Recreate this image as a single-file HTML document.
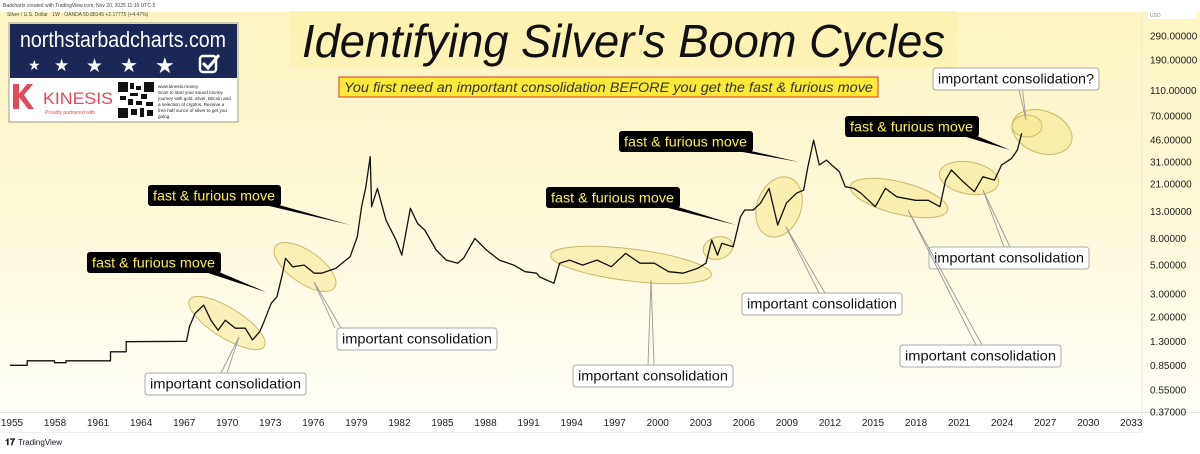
<!DOCTYPE html>
<html><head><meta charset="utf-8"><style>
html,body{margin:0;padding:0;background:#fff;}
svg{display:block;font-family:"Liberation Sans",sans-serif;}
</style></head><body>
<svg id="chart" width="1200" height="454" viewBox="0 0 1200 454" xmlns="http://www.w3.org/2000/svg">
<defs>
<linearGradient id="bg" x1="0" y1="0" x2="0" y2="1">
<stop offset="0" stop-color="#fdf5c2"/><stop offset="0.5" stop-color="#fdf8d8"/><stop offset="1" stop-color="#fffef8"/>
</linearGradient>
<clipPath id="plotclip"><rect x="0" y="14" width="1142" height="398"/></clipPath>
</defs>
<rect x="0" y="0" width="1200" height="454" fill="#fff"/>
<rect x="0" y="12" width="1200" height="400" fill="url(#bg)"/>
<line x1="1142" y1="12" x2="1142" y2="432" stroke="#ece8d8" stroke-width="1"/>
<line x1="0" y1="412.5" x2="1200" y2="412.5" stroke="#e6e3d6"/>
<line x1="0" y1="432.5" x2="1142" y2="432.5" stroke="#eeeeee"/>
<text x="3" y="7" font-size="5" fill="#444">Badcharts created with TradingView.com, Nov 20, 2025 11:15 UTC-5</text>
<text x="7" y="16" font-size="5" fill="#444">Silver / U.S. Dollar · 1W · OANDA  50.88145  +2.17775 (+4.47%)</text>
<rect x="1148" y="11" width="48" height="8" fill="#fff"/>
<text x="1150" y="17" font-size="5" fill="#888">USD</text>

<g>
<rect x="290" y="11" width="667" height="57" fill="#fcf2b0" opacity="0.85"/>
<text x="302" y="57" font-size="46" font-style="italic" fill="#111" textLength="643" lengthAdjust="spacingAndGlyphs">Identifying Silver's Boom Cycles</text>
</g>
<g>
<rect x="339" y="77" width="539" height="20" fill="#fde938" stroke="#e0553a" stroke-width="1.2"/>
<text x="344" y="92" font-size="14" font-style="italic" fill="#333" textLength="529" lengthAdjust="spacingAndGlyphs">You first need an important consolidation BEFORE you get the fast &amp; furious move</text>
</g>

<g>
<rect x="9" y="23" width="229" height="99" fill="#fff" stroke="#888" stroke-width="0.8"/>
<rect x="10" y="24" width="227" height="54" fill="#1b2757"/>
<text x="20" y="47" font-size="22" fill="#fff" textLength="206" lengthAdjust="spacingAndGlyphs">northstarbadcharts.com</text>
<g fill="#fff">
<text x="28" y="70" font-size="14">★</text><text x="54" y="71" font-size="17">★</text><text x="86" y="72" font-size="19">★</text><text x="120" y="72" font-size="20">★</text><text x="155" y="73" font-size="22">★</text>
</g>
<rect x="200" y="56" width="16" height="16" rx="3" fill="none" stroke="#fff" stroke-width="2.5"/>
<path d="M203 63 l5 5 l11 -13" fill="none" stroke="#fff" stroke-width="3"/>
<path d="M13 84 h6 v10 l8 -10 h6 l-9 11 l10 14 h-6 l-9 -12 v12 h-6 z" fill="#e24a5a"/>
<text x="43" y="104" font-size="17" fill="#e24a5a" textLength="70" lengthAdjust="spacingAndGlyphs">KINESIS</text>
<text x="45" y="114" font-size="5" fill="#e24a5a">Proudly partnered with</text>
<g fill="#111">
<rect x="118" y="82" width="36" height="36" fill="#fff"/>
<rect x="118" y="82" width="10" height="10"/><rect x="144" y="82" width="10" height="10"/><rect x="118" y="108" width="10" height="10"/>
<rect x="130" y="83" width="4" height="6"/><rect x="136" y="86" width="5" height="4"/><rect x="130" y="93" width="8" height="3"/><rect x="141" y="94" width="6" height="5"/>
<rect x="120" y="96" width="6" height="4"/><rect x="128" y="99" width="5" height="6"/><rect x="136" y="101" width="6" height="4"/><rect x="146" y="102" width="7" height="4"/>
<rect x="131" y="109" width="6" height="6"/><rect x="140" y="108" width="4" height="9"/><rect x="147" y="110" width="6" height="6"/>
</g>
<g font-size="4.6" fill="#222">
<text x="158" y="88">www.kinesis.money</text>
<text x="158" y="94">Scan to start your sound money</text>
<text x="158" y="100">journey with gold, silver, Bitcoin and</text>
<text x="158" y="106">a selection of cryptos. Receive a</text>
<text x="158" y="112">free half ounce of silver to get you</text>
<text x="158" y="118">going.</text>
</g>
</g>

<g id="yaxis"></g>
<g id="xaxis"></g>
<g id="ellipses"></g>
<g id="series" clip-path="url(#plotclip)"></g>
<g id="annotations"></g>
<g>
<text x="5" y="445" font-size="9" font-weight="bold" fill="#131722">𝟏𝟕</text>
<text x="18" y="445" font-size="8" fill="#131722">TradingView</text>
</g>
</svg>
<script>
const years = [1955.0,1956.2,1956.2,1958.1,1958.1,1958.9,1958.9,1962.0,1962.0,1963.1,1963.1,1967.3,1967.5,1967.9,1968.5,1969.0,1969.5,1970.0,1970.7,1971.4,1971.9,1972.4,1972.7,1973.2,1973.6,1974.0,1974.2,1974.7,1975.5,1976.2,1976.7,1977.7,1978.7,1979.2,1979.5,1979.8,1980.1,1980.2,1980.6,1981.2,1981.9,1982.3,1982.9,1983.4,1983.9,1984.7,1985.4,1986.2,1986.6,1987.4,1988.2,1989.1,1990.1,1990.9,1991.7,1991.9,1992.9,1993.3,1994.0,1994.9,1995.9,1996.9,1997.9,1998.9,1999.9,2000.9,2001.9,2002.9,2003.5,2003.9,2004.3,2004.6,2005.4,2005.9,2006.2,2006.8,2007.3,2007.9,2008.5,2009.1,2009.8,2010.3,2010.6,2011.0,2011.4,2011.9,2012.4,2012.8,2013.2,2013.8,2014.3,2015.3,2016.0,2016.8,2018.1,2019.0,2019.8,2020.2,2020.6,2021.3,2022.2,2022.8,2023.6,2024.1,2024.8,2025.2,2025.5];
const prices = [0.85,0.85,0.92,0.92,0.89,0.89,0.92,0.92,1.08,1.08,1.29,1.30,1.68,2.13,2.47,1.89,1.58,1.89,1.64,1.64,1.33,1.54,1.84,2.55,2.86,4.34,5.65,4.86,5.01,4.34,4.34,4.73,5.81,8.28,14.1,20.1,34.2,14.1,19.5,11.1,7.82,5.98,13.7,10.5,9.33,6.55,5.48,5.18,5.65,8.05,6.55,5.48,5.01,4.46,4.34,4.07,3.63,5.18,5.48,5.01,5.48,4.87,6.17,5.18,5.18,4.46,4.34,4.73,5.18,7.82,5.98,7.36,6.93,11.8,13.3,13.3,15.0,19.5,10.2,15.0,17.9,18.9,28.6,45.9,29.5,32.2,28.6,26.2,20.1,19.5,17.9,14.1,19.5,16.8,15.8,15.8,14.1,22.6,27.0,22.6,18.4,24.0,22.6,29.5,33.2,38.5,51.8];
const priceTicks = [290,190,110,70,46,31,21,13,8,5,3,2,1.3,0.85,0.55,0.37];
const yearTicks = [1955,1958,1961,1964,1967,1970,1973,1976,1979,1982,1985,1988,1991,1994,1997,2000,2003,2006,2009,2012,2015,2018,2021,2024,2027,2030,2033];

const NS = 'http://www.w3.org/2000/svg';
function xScale(yr){ return 10 + (yr - 1955) * 14.35; }
function yScale(v){ return 36 + (Math.log10(290) - Math.log10(v)) * 130; }
function mk(tag, attrs, parent){ const e=document.createElementNS(NS,tag); for(const k in attrs) e.setAttribute(k,attrs[k]); parent.appendChild(e); return e; }

const yax = document.getElementById('yaxis');
priceTicks.forEach(v=>{
  const t = mk('text',{x:1150,y:yScale(v)+3.5,'font-size':10,fill:'#222'},yax);
  
  
  t.textContent = v.toFixed(5);
});
const xax = document.getElementById('xaxis');
yearTicks.forEach(y=>{
  const t = mk('text',{x:xScale(y)+2,y:426,'font-size':10,fill:'#222','text-anchor':'middle'},xax);
  
  
  t.textContent = y;
});

let d = '';
years.forEach((yr,i)=>{ d += (i?'L':'M') + xScale(yr).toFixed(1) + ' ' + yScale(prices[i]).toFixed(1) + ' '; });
const line = mk('path',{d:d,fill:'none',stroke:'#111','stroke-width':1.3,'stroke-linejoin':'round'},document.getElementById('series'));



const ells = [[227,323,44,15,32],[305,267,36,16,35],[631,265,81,16,7],[718,248,15,11,-15],[779,207,31,22,-70],[899,198,50,16,14],[969,178,30,16,10],[1042,132,31,21,20],[1027,126,15,11,0]];
const eg = document.getElementById('ellipses');
ells.forEach(e=>{
  const el = mk('ellipse',{cx:e[0],cy:e[1],rx:e[2],ry:e[3],transform:`rotate(${e[4]} ${e[0]} ${e[1]})`,fill:'#f6e88a','fill-opacity':0.5,stroke:'#c9bb6a','stroke-width':1},eg);
  
  
});

const ag = document.getElementById('annotations');
const ff = [[87,252,134,21,266,292],[148,185,133,21,350,225],[546,187,134,21,736,225],[619,131,134,21,799,162],[845,116,134,21,1010,150]];
ff.forEach(f=>{
  const g = mk('g',{},ag);
  
  
  const bx=f[0]+f[2]-16, by=f[1]+f[3];
  mk('path',{d:`M${bx} ${by-1} L${f[4]} ${f[5]} L${bx+14} ${by-1} Z`,fill:'#000'},g);
  mk('rect',{x:f[0],y:f[1],width:f[2],height:f[3],rx:3,fill:'#000'},g);
  const t = mk('text',{x:f[0]+5,y:f[1]+15.5,'font-size':14,fill:'#f8ee4c',textLength:f[2]-11,lengthAdjust:'spacingAndGlyphs'},g);
  t.textContent = 'fast & furious move';
});
const cons = [[145,373,161,22,224,239,337,'important consolidation'],[337,328,160,22,338,314,282,'important consolidation'],[573,365,160,22,651,651,280,'important consolidation'],[742,293,160,22,822,786,227,'important consolidation'],[929,247,160,22,1007,983,190,'important consolidation'],[900,345,161,22,979,908,210,'important consolidation'],[933,68,166,22,1017,1026,120,'important consolidation?']];
cons.forEach(c=>{
  const g = mk('g',{},ag);
  
  
  mk('path',{d:`M${c[4]-3} ${c[1]} L${c[5]} ${c[6]} L${c[4]+3} ${c[1]}`,fill:'none',stroke:'#999','stroke-width':0.9},g);
  mk('rect',{x:c[0],y:c[1],width:c[2],height:c[3],rx:3,fill:'#fff',stroke:'#aaa','stroke-width':1},g);
  const t = mk('text',{x:c[0]+5,y:c[1]+15.5,'font-size':14,fill:'#111',textLength:c[2]-10,lengthAdjust:'spacingAndGlyphs'},g);
  t.textContent = c[7];
});
</script>
</body></html>
